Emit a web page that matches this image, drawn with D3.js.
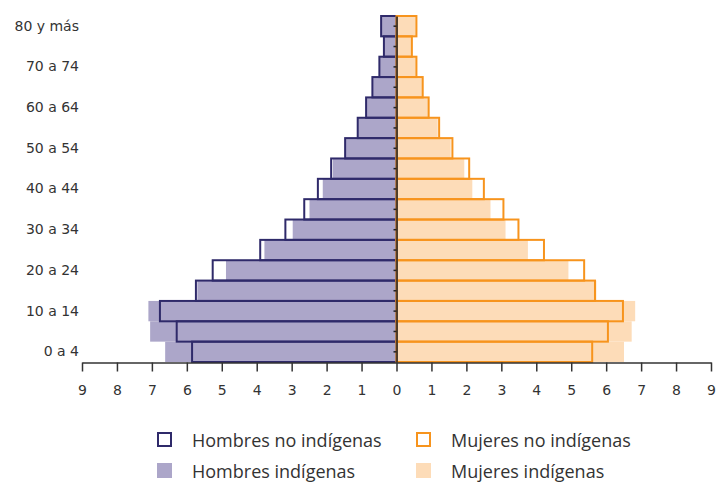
<!DOCTYPE html>
<html>
<head>
<meta charset="utf-8">
<script src="https://cdn.jsdelivr.net/npm/d3@7"></script>
<style>
  body { margin: 0; background: #fff; }
  .lbl { font-family: "DejaVu Sans", sans-serif; font-size: 14px; fill: #333; }
  .leg { font-family: "Open Sans", sans-serif; font-size: 18px; fill: #333; }
</style>
</head>
<body>
<div id="chart"></div>
<script>
// grupos de edad, de abajo hacia arriba
var ageGroups = ["0 a 4","5 a 9","10 a 14","15 a 19","20 a 24","25 a 29","30 a 34","35 a 39",
  "40 a 44","45 a 49","50 a 54","55 a 59","60 a 64","65 a 69","70 a 74","75 a 79","80 y más"];

// porcentajes
var hombresNoInd = [5.85,6.29,6.77,5.74,5.26,3.90,3.18,2.64,2.25,1.87,1.47,1.11,0.87,0.69,0.49,0.36,0.44];
var hombresInd   = [6.62,7.05,7.10,5.70,4.88,3.78,2.97,2.49,2.11,1.82,1.45,1.10,0.86,0.68,0.48,0.35,0.43];
var mujeresNoInd = [5.60,6.05,6.48,5.68,5.37,4.22,3.49,3.06,2.50,2.08,1.60,1.22,0.92,0.75,0.57,0.44,0.57];
var mujeresInd   = [6.51,6.73,6.83,5.72,4.92,3.76,3.12,2.69,2.17,1.94,1.55,1.18,0.90,0.73,0.55,0.42,0.55];

var xTicks = d3.range(-9, 10);
var legendItems = ["Hombres no indígenas","Mujeres no indígenas","Hombres indígenas","Mujeres indígenas"];

var width = 716, height = 483;
var navy = "#2f2a6a", lavender = "#aca6c9", orange = "#f7941d", peach = "#fddcb8";

var svg = d3.select("#chart").append("svg")
  .attr("width", width).attr("height", height);

var x = d3.scaleLinear().domain([-9, 9]).range([82, 711]);
var y = d3.scaleBand().domain(ageGroups.slice().reverse()).range([16, 362]).padding(0);

// filas: datos combinados
var rows = ageGroups.map(function(g, i) {
  return {age: g, hNo: hombresNoInd[i], hIn: hombresInd[i], mNo: mujeresNoInd[i], mIn: mujeresInd[i]};
});

// barras rellenas (indígenas)
svg.append("g").selectAll("rect").data(rows).enter().append("rect")
  .attr("x", d => x(-d.hIn)).attr("y", d => y(d.age))
  .attr("width", d => x(0) - x(-d.hIn)).attr("height", y.bandwidth())
  .attr("fill", lavender);
svg.append("g").selectAll("rect").data(rows).enter().append("rect")
  .attr("x", x(0)).attr("y", d => y(d.age))
  .attr("width", d => x(d.mIn) - x(0)).attr("height", y.bandwidth())
  .attr("fill", peach);

// contornos (no indígenas)
svg.append("g").selectAll("rect").data(rows).enter().append("rect")
  .attr("x", d => x(-d.hNo)).attr("y", d => y(d.age))
  .attr("width", d => x(0) - x(-d.hNo)).attr("height", y.bandwidth())
  .attr("fill", "none").attr("stroke", navy).attr("stroke-width", 2);
svg.append("g").selectAll("rect").data(rows).enter().append("rect")
  .attr("x", x(0)).attr("y", d => y(d.age))
  .attr("width", d => x(d.mNo) - x(0)).attr("height", y.bandwidth())
  .attr("fill", "none").attr("stroke", orange).attr("stroke-width", 2);

// eje central con marcas pequeñas
var yAxis = svg.append("g").attr("transform", "translate(" + x(0) + ",0)")
  .call(d3.axisLeft(y).tickSize(3).tickSizeOuter(0).tickFormat(""));
yAxis.select(".domain").attr("stroke", "#222").attr("stroke-width", 1.5);
yAxis.selectAll(".tick line").attr("stroke", "#222").attr("stroke-width", 1.5);

// etiquetas de edad (una de cada dos)
var yLabels = svg.append("g").attr("transform", "translate(79,0)")
  .call(d3.axisLeft(y).tickSize(0).tickPadding(0)
    .tickFormat((d, i) => (ageGroups.indexOf(d) % 2 === 0 ? d : "")));
yLabels.select(".domain").remove();
yLabels.selectAll("text").attr("class", "lbl").attr("font-size", null).attr("font-family", null);

// eje x
var xAxis = svg.append("g").attr("transform", "translate(0,362.5)")
  .call(d3.axisBottom(x).tickValues(xTicks).tickSize(9).tickSizeOuter(0).tickPadding(14)
    .tickFormat(d => Math.abs(d)));
xAxis.select(".domain").attr("stroke", "#333").attr("stroke-width", 1.5);
xAxis.selectAll(".tick line").attr("stroke", "#333").attr("stroke-width", 1.5);
xAxis.selectAll("text").attr("class", "lbl").attr("font-size", null).attr("font-family", null);

// leyenda
var legPos = [[157, 432], [416, 432], [157, 463], [416, 463]];
var leg = svg.append("g").selectAll("g").data(legendItems).enter().append("g")
  .attr("transform", (d, i) => "translate(" + legPos[i][0] + "," + legPos[i][1] + ")");
leg.append("rect")
  .attr("x", (d, i) => i < 2 ? 1 : 0).attr("y", (d, i) => i < 2 ? 1 : 0)
  .attr("width", (d, i) => i < 2 ? 13 : 15).attr("height", (d, i) => i < 2 ? 13 : 15)
  .attr("fill", (d, i) => i < 2 ? "none" : (i === 2 ? lavender : peach))
  .attr("stroke", (d, i) => i === 0 ? navy : (i === 1 ? orange : "none"))
  .attr("stroke-width", 2);
leg.append("text").attr("class", "leg")
  .attr("x", 35).attr("y", 14.5)
  .text(d => d);
</script>
</body>
</html>
